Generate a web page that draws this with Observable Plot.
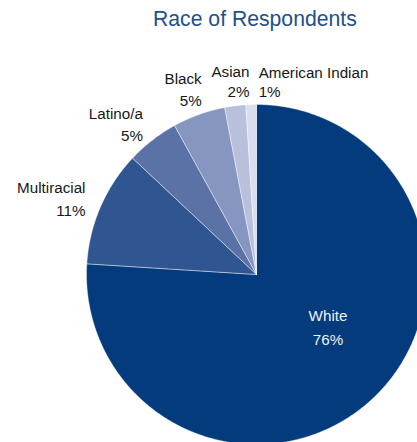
<!DOCTYPE html>
<html><head><meta charset="utf-8">
<script src="https://cdn.jsdelivr.net/npm/d3@7"></script>
<script src="https://cdn.jsdelivr.net/npm/@observablehq/plot@0.6"></script>
<style>
html,body{margin:0;padding:0;background:#fff;overflow:hidden;width:417px;height:442px}
#title{height:36px;box-sizing:border-box;padding:7px 0 0 153px;font:21.2px "Liberation Sans",Arial,sans-serif;color:#1f4f8e;line-height:1.15;white-space:nowrap}
#chart svg{overflow:hidden;display:block}
</style></head><body>
<div id="title">Race of Respondents</div>
<div id="chart"></div>
<script>
// Data
const races = ["White", "Multiracial", "Latino/a", "Black", "Asian", "American Indian"];
const percents = [76, 11, 5, 5, 2, 1];
const colors = ["#033b7c", "#2f5691", "#5a72a6", "#8796c1", "#b8c0dc", "#d9ddee"];

// Layout (pixels)
const W = 417, H = 406;
const cx = 256, cy = 238, R = 170;
// label nudges in px (dx, dy) relative to radial anchor
const nudge = {
  "White": [7.5, -17], "Multiracial": [0.6, -3], "Latino/a": [1, -4],
  "Black": [8.5, -10.5], "Asian": [16.4, -8], "American Indian": [8, -6.5]
};

const table = races.map((r, i) => ({race: r, value: percents[i]}));
const arcs = d3.pie().sort(null).value(d => d.value)(table);

// slice polygons in unit coordinates (y up)
const pts = [];
for (const a of arcs) {
  const n = Math.max(2, Math.ceil((a.endAngle - a.startAngle) / 0.005));
  pts.push({race: a.data.race, x: 0, y: 0});
  for (let k = 0; k <= n; k++) {
    const t = a.startAngle + (a.endAngle - a.startAngle) * k / n;
    pts.push({race: a.data.race, x: Math.sin(t), y: Math.cos(t)});
  }
  pts.push({race: a.data.race, x: 0, y: 0});
}

function labelPos(a, r) {
  const m = (a.startAngle + a.endAngle) / 2;
  const [dx, dy] = nudge[a.data.race];
  return {race: a.data.race, text: `${a.data.race}\n${a.data.value}%`,
    x: Math.sin(m) * r + dx / R, y: Math.cos(m) * r - dy / R};
}
const pick = (names, r) => arcs.filter(a => names.includes(a.data.race)).map(a => labelPos(a, r));
const sideLab = pick(["Multiracial", "Latino/a", "Black"], 1.1);
const asianLab = pick(["Asian"], 1.1);
const startLab = pick(["American Indian"], 1.1);
const inner = pick(["White"], 0.55);

const font = "'Liberation Sans', Arial, sans-serif";
const ink = "#161616";
const chart = Plot.plot({
  width: W, height: H,
  margin: 0,
  x: {domain: [-cx / R, (W - cx) / R], axis: null},
  y: {domain: [-(H - cy) / R, cy / R], axis: null},
  color: {domain: races, range: colors},
  style: {fontFamily: font, background: "white"},
  marks: [
    Plot.line(pts, {x: "x", y: "y", z: "race", fill: "race", stroke: "#ffffff", strokeWidth: 0.6, strokeOpacity: 0.7, strokeLinejoin: "round"}),
    Plot.text(sideLab, {x: "x", y: "y", text: "text", textAnchor: "end", fontSize: 15.2, lineHeight: 1.47, fill: ink}),
    Plot.text(asianLab, {x: "x", y: "y", text: "text", textAnchor: "end", fontSize: 15.2, lineHeight: 1.3, fill: ink}),
    Plot.text(startLab, {x: "x", y: "y", text: "text", textAnchor: "start", fontSize: 15.2, lineHeight: 1.3, fill: ink}),
    Plot.text(inner, {x: "x", y: "y", text: "text", textAnchor: "middle", fontSize: 15.2, lineHeight: 1.58, fill: "#eef1f8"})
  ]
});
document.getElementById("chart").appendChild(chart);
</script>
</body></html>
